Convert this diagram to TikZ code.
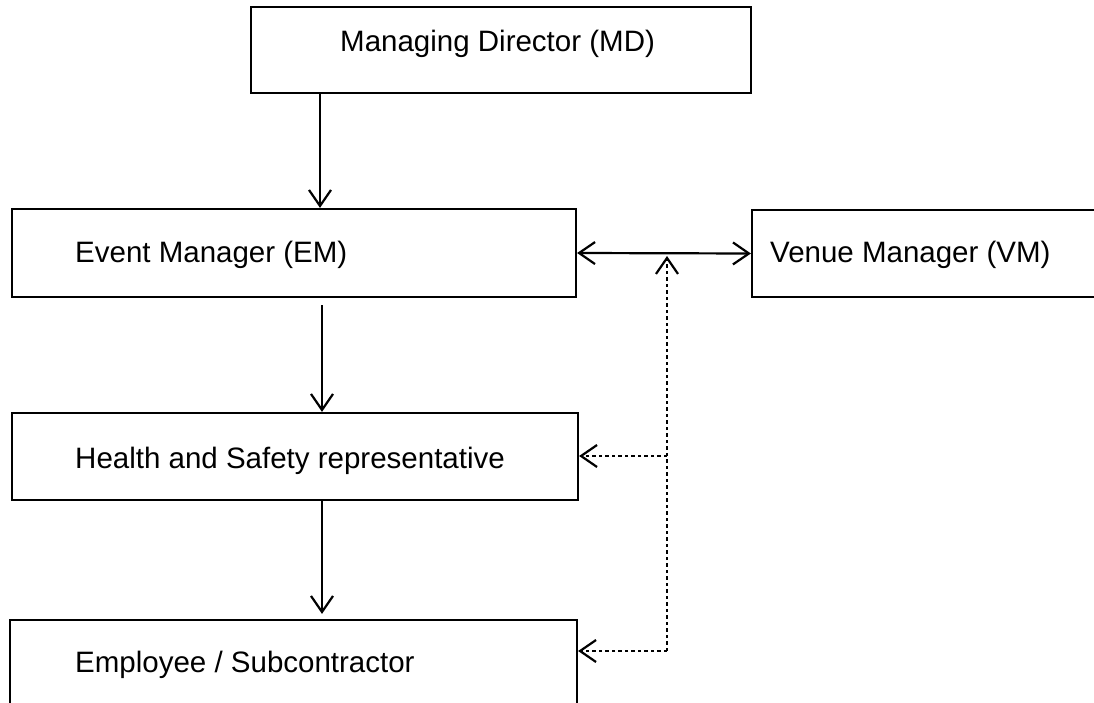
\documentclass[tikz,border=0pt]{standalone}
\usepackage{fontspec}
\setmainfont{Liberation Sans}
\usetikzlibrary{arrows.meta}
\begin{document}
\begin{tikzpicture}[x=1pt,y=-1pt,
  box/.style={draw,line width=2.2pt,rectangle,inner sep=0pt},
  lbl/.style={anchor=base west,inner sep=0pt,font=\fontsize{29.5}{34}\selectfont},
  tip/.tip={Straight Barb[length=16pt,width=22pt,line width=2.2pt]},
  arr/.style={line width=2.2pt,-tip},
  dbl/.style={line width=2.2pt,tip-tip},
  dotln/.style={line width=2.8pt,dash pattern=on 3.5pt off 3pt}]
\useasboundingbox (0,0) rectangle (1094,703);
\clip (0,0) rectangle (1094,703);
\fill[white] (0,0) rectangle (1094,703);
% boxes
\node[box,minimum width=500pt,minimum height=86pt] (MD) at (501,50) {};
\node[box,minimum width=564pt,minimum height=88pt] (EM) at (294,253) {};
\node[box,minimum width=358pt,minimum height=87pt] (VM) at (931,253.5) {};
\node[box,minimum width=566pt,minimum height=87pt] (HS) at (295,456.5) {};
\node[box,minimum width=567pt,minimum height=140pt] (EE) at (293.5,690) {};
% labels
\node[lbl] (tMD) at (340,52) {Managing Director (MD)};
\node[lbl] (tEM) at (75,262) {Event Manager (EM)};
\node[lbl] (tVM) at (770,262) {Venue Manager (VM)};
\node[lbl] (tHS) at (75,468) {Health and Safety representative};
\node[lbl] (tEE) at (75,672) {Employee / Subcontractor};
% helper coordinates
\coordinate (c1) at (320,0);
\coordinate (c2) at (322,0);
\coordinate (j0) at (667,256);
\coordinate (j1) at (667,651);
\coordinate (j2) at (667,456);
% solid connectors
\draw[arr] (MD.south -| c1) -- (EM.north -| c1);
\draw[arr,shorten <=7pt] (EM.south -| c2) -- (HS.north -| c2);
\draw[arr,shorten >=5pt] (HS.south -| c2) -- (EE.north -| c2);
\draw[dbl] (EM.east) -- (VM.west);
% dotted connectors
\draw[dotln,arr,line width=2.8pt] (j1) -- (j0);
\draw[dotln,arr,line width=2.8pt] (j1) -- (j1 -| EE.east);
\draw[dotln,arr,line width=2.8pt] (j2) -- (j2 -| HS.east);
\end{tikzpicture}
\end{document}
